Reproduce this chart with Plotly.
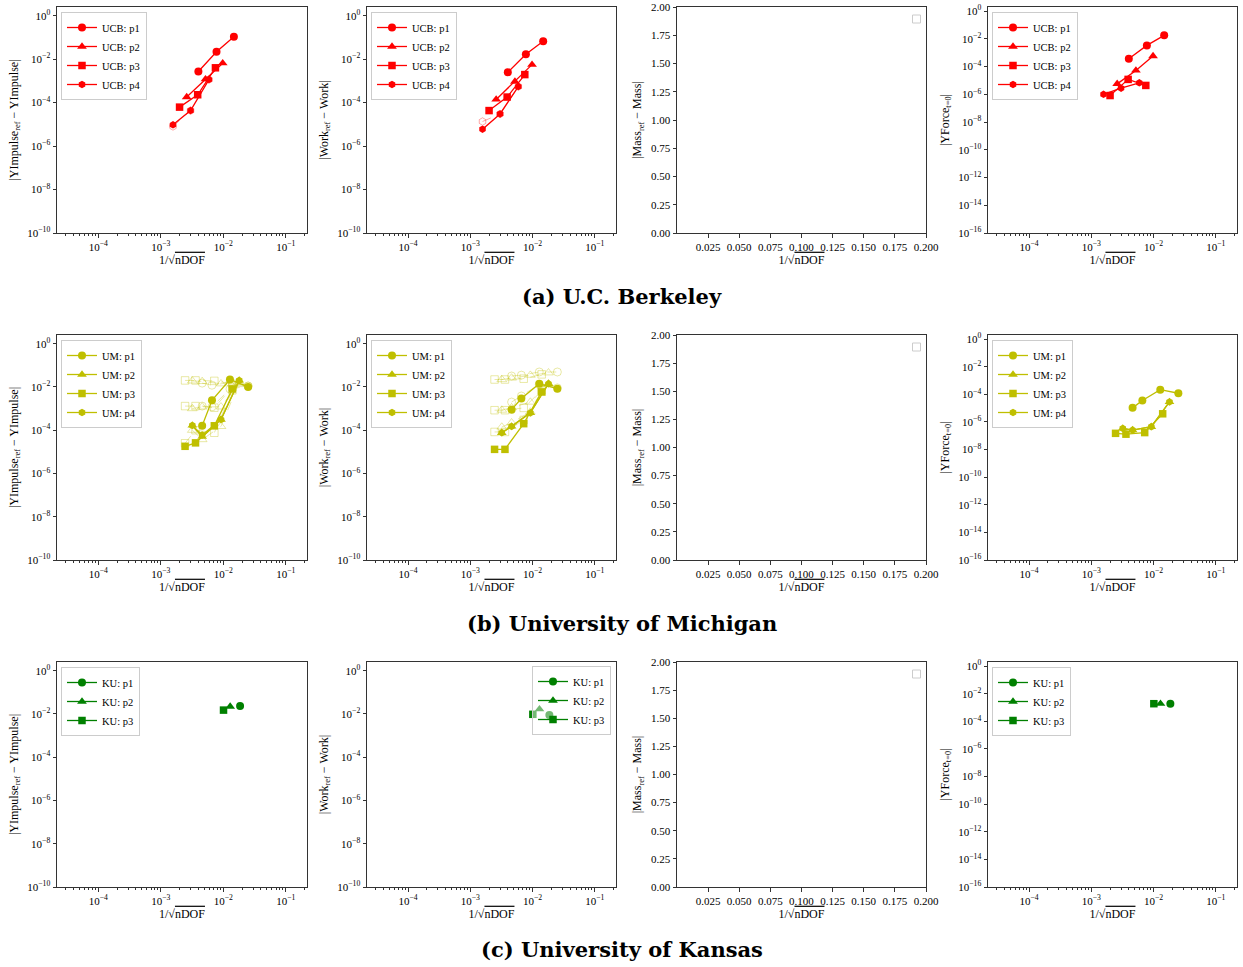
import plotly.graph_objects as go

# ---------------------------------------------------------------- data
# U.C. Berkeley : 1/sqrt(nDOF) per part
UCB_X_P1 = [4.0e-3, 7.8e-3, 1.48e-2]
UCB_X_P2 = [2.6e-3, 5.2e-3, 9.8e-3]
UCB_X_P3 = [2.0e-3, 3.9e-3, 7.5e-3]
UCB_X_P4 = [1.57e-3, 3.0e-3, 5.9e-3]
# |YImpulse_ref - YImpulse|
UCB_IMP_P1 = [2.7e-3, 2.2e-2, 1.08e-1]
UCB_IMP_P2 = [1.8e-4, 1.2e-3, 6.5e-3]
UCB_IMP_P3 = [6.2e-5, 2.3e-4, 4.0e-3]
UCB_IMP_P4 = [9.5e-6, 4.3e-5, 1.15e-3]
UCB_IMP_P4_ALT = [8.0e-6, 4.3e-5, 1.15e-3]
# |Work_ref - Work|
UCB_WRK_P1 = [2.5e-3, 1.67e-2, 6.6e-2]
UCB_WRK_P2 = [1.4e-4, 9.3e-4, 5.6e-3]
UCB_WRK_P3 = [4.3e-5, 1.8e-4, 1.95e-3]
UCB_WRK_P4 = [6.0e-6, 3.0e-5, 5.5e-4]
UCB_WRK_P4_ALT = [1.35e-5, 3.0e-5, 5.5e-4]
# |YForce_t=0|
UCB_FRC_P1 = [3.7e-4, 3.4e-3, 1.8e-2]
UCB_FRC_P2 = [5.7e-6, 5.3e-5, 5.8e-4]
UCB_FRC_P3 = [8.2e-7, 1.2e-5, 4.4e-6]
UCB_FRC_P4 = [1.0e-6, 2.8e-6, 6.8e-6]

# University of Michigan
UM_X_P1 = [4.6e-3, 6.6e-3, 1.28e-2, 2.5e-2]
UM_X_P2 = [3.2e-3, 4.6e-3, 9.2e-3, 1.8e-2]
UM_X_P3 = [2.45e-3, 3.6e-3, 7.2e-3, 1.4e-2]
UM_X_P4 = [3.2e-3, 4.6e-3, 9.2e-3, 1.8e-2]
UM_IMP_P1 = [1.6e-4, 2.4e-3, 2.2e-2, 1.0e-2]
UM_IMP_P2 = [1.65e-4, 5.0e-5, 3.1e-4, 2.0e-2]
UM_IMP_P3 = [1.8e-5, 2.6e-5, 1.6e-4, 8.1e-3]
UM_IMP_P4 = [1.65e-4, 6.0e-5, 3.1e-4, 2.0e-2]
UM_WRK_P1 = [8.9e-4, 2.9e-3, 1.4e-2, 8.3e-3]
UM_WRK_P2 = [7.6e-5, 1.5e-4, 6.3e-4, 1.4e-2]
UM_WRK_P3 = [1.3e-5, 1.3e-5, 2.0e-4, 5.9e-3]
UM_WRK_P4 = [7.6e-5, 1.5e-4, 6.3e-4, 1.4e-2]
UM_FRC_P1 = [1.05e-5, 3.6e-5, 2.2e-4, 1.2e-4]
UM_FRC_P2 = [3.4e-7, 2.6e-7, 4.5e-7, 2.8e-5]
UM_FRC_P3 = [1.5e-7, 1.3e-7, 1.7e-7, 3.9e-6]
UM_FRC_P4 = [3.4e-7, 2.6e-7, 4.5e-7, 2.8e-5]
# University of Michigan: faded variant runs (hollow markers, dashed)
UM_IMP_A_P1 = [1.5e-2, 1.2e-2, 1.6e-2, 1.1e-2]
UM_IMP_A_P2 = [1.9e-2, 1.8e-2, 1.4e-2, 1.3e-2]
UM_IMP_A_P3 = [2.0e-2, 2.0e-2, 1.9e-2, 1.4e-2]
UM_IMP_B_P1 = [1.3e-3, 1.2e-3, 8.0e-3, 1.1e-2]
UM_IMP_B_P2 = [1.0e-3, 1.2e-3, 1.2e-3, 1.5e-2]
UM_IMP_B_P3 = [1.3e-3, 1.3e-3, 1.1e-3, 1.0e-2]
UM_IMP_C_P2 = [1.0e-4, 3.7e-5, 1.5e-4, 1.6e-2]
UM_IMP_C_P3 = [2.5e-5, 1.0e-4, 7.6e-5, 7.0e-3]
UM_WRK_A_P1 = [3.2e-2, 3.5e-2, 4.9e-2, 4.9e-2]
UM_WRK_A_P2 = [2.2e-2, 2.6e-2, 3.5e-2, 4.5e-2]
UM_WRK_A_P3 = [2.2e-2, 2.2e-2, 2.4e-2, 3.8e-2]
UM_WRK_B_P1 = [2.0e-3, 3.8e-3, 1.3e-2, 9.0e-3]
UM_WRK_B_P2 = [8.5e-4, 1.1e-3, 2.0e-3, 1.3e-2]
UM_WRK_B_P3 = [8.4e-4, 8.4e-4, 1.07e-3, 7.0e-3]
UM_WRK_C_P2 = [1.4e-4, 2.2e-4, 7.0e-4, 1.4e-2]
UM_WRK_C_P3 = [8.3e-5, 8.3e-5, 3.0e-4, 6.0e-3]

# University of Kansas (one mesh per part)
KU_X_P1 = [1.86e-2]
KU_X_P2 = [1.29e-2]
KU_X_P3 = [1.01e-2]
KU_IMP_P1 = [2.3e-2]
KU_IMP_P2 = [2.2e-2]
KU_IMP_P3 = [1.5e-2]
KU_WRK_P1 = [8.9e-3]
KU_WRK_P2 = [1.65e-2]
KU_WRK_P3 = [9.6e-3]
KU_FRC_P1 = [1.9e-3]
KU_FRC_P2 = [1.9e-3]
KU_FRC_P3 = [1.9e-3]

ROW_TITLES = ["(a) U.C. Berkeley", "(b) University of Michigan", "(c) University of Kansas"]
PREFIX = ["UCB", "UM", "KU"]
PART_NAMES = ["p1", "p2", "p3", "p4"]

# ---------------------------------------------------------------- style
W, H = 1243, 967
COL_PX = [(57, 307), (367, 616), (677, 926), (988, 1237)]
ROW_PX = [(7, 233), (335, 560), (662, 887)]
TITLE_Y_PX = [297, 623, 949]
FONT = "Liberation Serif"
TITLE_FONT = "DejaVu Serif"
COLORS = ["#ff0000", "#bfbf00", "#008000"]
FADED = ["rgba(255,0,0,0.35)", "rgba(191,191,0,0.35)", "rgba(0,128,0,0.35)"]
SYMBOLS = ["circle", "triangle-up", "square", "hexagon"]
SIZES = [8, 8.5, 7.5, 7.5]

XLABEL = "1/√<span style='text-decoration:overline'>nDOF</span>"
YLABELS = ["|YImpulse<sub>ref</sub> − YImpulse|",
           "|Work<sub>ref</sub> − Work|",
           "|Mass<sub>ref</sub> − Mass|",
           "|YForce<sub>t=0</sub>|"]


def fx(px):
    return min(1.0, max(0.0, px / W))


def fy(py):
    return min(1.0, max(0.0, 1 - py / H))


# ---------------------------------------------------------------- assemble
SOLID = {
    (0, 0): [(UCB_X_P1, UCB_IMP_P1), (UCB_X_P2, UCB_IMP_P2), (UCB_X_P3, UCB_IMP_P3), (UCB_X_P4, UCB_IMP_P4)],
    (0, 1): [(UCB_X_P1, UCB_WRK_P1), (UCB_X_P2, UCB_WRK_P2), (UCB_X_P3, UCB_WRK_P3), (UCB_X_P4, UCB_WRK_P4)],
    (0, 3): [(UCB_X_P1, UCB_FRC_P1), (UCB_X_P2, UCB_FRC_P2), (UCB_X_P3, UCB_FRC_P3), (UCB_X_P4, UCB_FRC_P4)],
    (1, 0): [(UM_X_P1, UM_IMP_P1), (UM_X_P2, UM_IMP_P2), (UM_X_P3, UM_IMP_P3), (UM_X_P4, UM_IMP_P4)],
    (1, 1): [(UM_X_P1, UM_WRK_P1), (UM_X_P2, UM_WRK_P2), (UM_X_P3, UM_WRK_P3), (UM_X_P4, UM_WRK_P4)],
    (1, 3): [(UM_X_P1, UM_FRC_P1), (UM_X_P2, UM_FRC_P2), (UM_X_P3, UM_FRC_P3), (UM_X_P4, UM_FRC_P4)],
    (2, 0): [(KU_X_P1, KU_IMP_P1), (KU_X_P2, KU_IMP_P2), (KU_X_P3, KU_IMP_P3)],
    (2, 1): [(KU_X_P1, KU_WRK_P1), (KU_X_P2, KU_WRK_P2), (KU_X_P3, KU_WRK_P3)],
    (2, 3): [(KU_X_P1, KU_FRC_P1), (KU_X_P2, KU_FRC_P2), (KU_X_P3, KU_FRC_P3)],
}
# (part index, x, y)
FADE = {
    (0, 0): [(3, UCB_X_P4, UCB_IMP_P4_ALT)],
    (0, 1): [(3, UCB_X_P4, UCB_WRK_P4_ALT)],
    (1, 0): [(0, UM_X_P1, UM_IMP_A_P1), (1, UM_X_P2, UM_IMP_A_P2), (2, UM_X_P3, UM_IMP_A_P3),
             (0, UM_X_P1, UM_IMP_B_P1), (1, UM_X_P2, UM_IMP_B_P2), (2, UM_X_P3, UM_IMP_B_P3),
             (1, UM_X_P2, UM_IMP_C_P2), (2, UM_X_P3, UM_IMP_C_P3)],
    (1, 1): [(0, UM_X_P1, UM_WRK_A_P1), (1, UM_X_P2, UM_WRK_A_P2), (2, UM_X_P3, UM_WRK_A_P3),
             (0, UM_X_P1, UM_WRK_B_P1), (1, UM_X_P2, UM_WRK_B_P2), (2, UM_X_P3, UM_WRK_B_P3),
             (1, UM_X_P2, UM_WRK_C_P2), (2, UM_X_P3, UM_WRK_C_P3)],
}


def pw(e):
    return "10<sup>%s%d</sup>" % ("−" if e < 0 else "", abs(e))


fig = go.Figure()
layout = dict(width=W, height=H, margin=dict(l=0, r=0, t=0, b=0, autoexpand=False),
              paper_bgcolor="white", plot_bgcolor="white",
              font=dict(family=FONT, size=11, color="black"),
              showlegend=True, annotations=[], shapes=[])

minor_x = [m * 10.0 ** e for e in range(-5, 0) for m in range(2, 10)]
legend_count = 0

for r in range(3):
    for c in range(4):
        k = r * 4 + c + 1
        xa = "xaxis" if k == 1 else "xaxis%d" % k
        ya = "yaxis" if k == 1 else "yaxis%d" % k
        xr = "x" if k == 1 else "x%d" % k
        yr = "y" if k == 1 else "y%d" % k
        x0, x1 = COL_PX[c]
        y0, y1 = ROW_PX[r]
        common = dict(showline=True, linecolor="#333", linewidth=1, mirror=True,
                      ticks="outside", ticklen=3.5, tickcolor="#333", tickwidth=0.8,
                      showgrid=False, zeroline=False, automargin=False,
                      tickfont=dict(size=11, family=FONT))
        xd = dict(domain=[fx(x0), fx(x1)], anchor=yr,
                  title=dict(text=XLABEL, standoff=3, font=dict(size=12, family=FONT)), **common)
        yd = dict(domain=[fy(y1), fy(y0)], anchor=xr,
                  title=dict(text=YLABELS[c], standoff=6, font=dict(size=12, family=FONT)), **common)
        if c == 2:
            xd.update(type="linear", range=[2.2e-5, 0.2], tickmode="array",
                      tickvals=[0.025 * i for i in range(1, 9)],
                      ticktext=["%.3f" % (0.025 * i) for i in range(1, 9)])
            yd.update(type="linear", range=[0, 2], tickmode="array",
                      tickvals=[0.25 * i for i in range(9)],
                      ticktext=["%.2f" % (0.25 * i) for i in range(9)])
            # empty legend frame
            layout["shapes"].append(dict(type="rect", xref=xr + " domain", yref=yr + " domain",
                                         x0=1 - 13.5 / (x1 - x0), x1=1 - 5.5 / (x1 - x0),
                                         y0=1 - 16 / (y1 - y0), y1=1 - 8 / (y1 - y0),
                                         line=dict(color="#cccccc", width=1), fillcolor="white"))
            fig.add_trace(go.Scatter(x=[], y=[], xaxis=xr, yaxis=yr, mode="markers",
                                     showlegend=False, hoverinfo="skip"))
        else:
            xd.update(type="log", range=[-4.66, -0.66], tickmode="array",
                      tickvals=[1e-4, 1e-3, 1e-2, 1e-1], ticktext=[pw(e) for e in (-4, -3, -2, -1)],
                      minor=dict(tickmode="array", tickvals=minor_x, ticks="outside",
                                 ticklen=2, tickcolor="#333", tickwidth=0.6, showgrid=False))
            lo = -10 if c < 3 else -16
            top = 0.4 if c < 3 else 0.3
            exps = list(range(lo, 1, 2))
            yd.update(type="log", range=[lo, top], tickmode="array",
                      tickvals=[10.0 ** e for e in exps], ticktext=[pw(e) for e in exps])
        layout[xa] = xd
        layout[ya] = yd

        if (r, c) not in SOLID:
            continue
        legend_count += 1
        lg = "legend" if legend_count == 1 else "legend%d" % legend_count
        bg = "rgba(255,255,255,0.8)"
        if r == 2 and c == 1:
            ldict = dict(x=fx(x1 - 5), y=fy(y0 + 4), xanchor="right", yanchor="top")
            bg = "rgba(255,255,255,0.45)"
        else:
            ldict = dict(x=fx(x0 + 4), y=fy(y0 + 5), xanchor="left", yanchor="top")
        ldict.update(bgcolor=bg, bordercolor="#cccccc", borderwidth=1,
                     font=dict(size=10.5, family=FONT), itemwidth=30, tracegroupgap=0)
        layout[lg] = ldict

        for (pi, tx, ty) in FADE.get((r, c), []):
            fig.add_trace(go.Scatter(
                x=tx, y=ty, xaxis=xr, yaxis=yr, mode="lines+markers", showlegend=False,
                line=dict(color=FADED[r], width=1, dash="dash"),
                marker=dict(symbol=SYMBOLS[pi] + "-open", size=SIZES[pi], color=FADED[r],
                            line=dict(width=1, color=FADED[r])),
                hoverinfo="skip"))
        series = SOLID[(r, c)]
        order = list(range(len(series)))
        if r == 1:
            order = [3, 0, 1, 2]
        for pi in order:
            sx, sy = series[pi]
            fig.add_trace(go.Scatter(
                x=sx, y=sy, xaxis=xr, yaxis=yr, mode="lines+markers",
                name="%s: %s" % (PREFIX[r], PART_NAMES[pi]), legend=lg, legendrank=pi + 1,
                line=dict(color=COLORS[r], width=1.3),
                marker=dict(symbol=SYMBOLS[pi], size=SIZES[pi], color=COLORS[r])))

for r in range(3):
    layout["annotations"].append(dict(
        text="<b>%s</b>" % ROW_TITLES[r], xref="paper", yref="paper",
        x=fx(622), y=fy(TITLE_Y_PX[r]), xanchor="center", yanchor="middle",
        showarrow=False, font=dict(size=21, family=TITLE_FONT, color="black")))

fig.update_layout(**layout)
# the page's default 8px body margin would offset the figure inside the window
fig.write_html("out.html", config={"displayModeBar": False},
               post_script="document.body.style.margin='0px';")
